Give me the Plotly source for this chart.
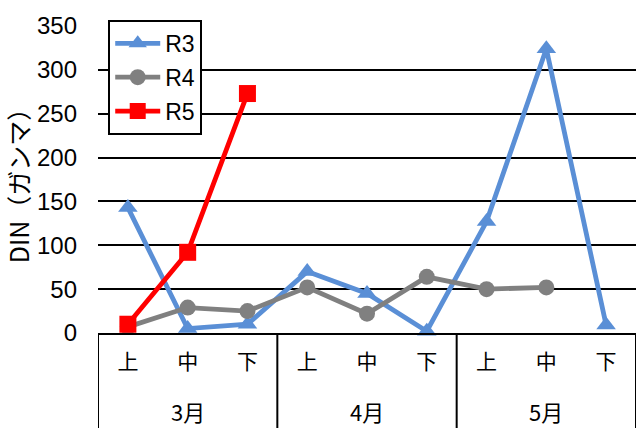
import plotly.graph_objs as go

#-------------------------------------------
# data
months = ['3月', '4月', '5月']
periods = ['上', '中', '下']
r3 = [143, 5, 10, 70, 45, 2, 127, 324, 9]
r4 = [7, 29, 25, 52, 22, 64, 50, 52, None]
r5 = [10, 92, 273, None, None, None, None, None, None]

#-------------------------------------------
# x positions / labels
tick_text = [p for m in months for p in periods]
xs = list(range(len(tick_text)))
n = len(periods)

num_font = 'Liberation Sans, Arial, sans-serif'
jp_font = 'Noto Sans CJK JP, sans-serif'

series = [
    ('R3', r3, '#5A8FD6', 'triangle-up', 17),
    ('R4', r4, '#808080', 'circle', 16),
    ('R5', r5, '#FF0000', 'square', 17),
]

data = []
for name, vals, col, sym, sz in series:
    data.append(go.Scatter(x=xs, y=vals, name=name, mode='lines+markers',
                           line=dict(color=col, width=4.8),
                           marker=dict(symbol=sym, size=sz, color=col),
                           cliponaxis=False, legendgroup=name))

#-------------------------------------------
# group dividers + month labels
shapes = []
annotations = []
for i, m in enumerate(months):
    shapes.append(dict(type='line', xref='x', yref='paper',
                       x0=i * n - 0.5, x1=i * n - 0.5, y0=0, y1=-0.32,
                       line=dict(color='black', width=2)))
    annotations.append(dict(text=m, xref='x', yref='paper',
                            x=i * n + (n - 1) / 2, y=-0.254,
                            showarrow=False, yanchor='middle',
                            font=dict(family=jp_font, size=22, color='black')))
shapes.append(dict(type='line', xref='x', yref='paper',
                   x0=len(xs) - 0.5, x1=len(xs) - 0.5, y0=0, y1=-0.32,
                   line=dict(color='black', width=2)))

layout = go.Layout(
    width=636, height=428,
    margin=dict(l=98, r=0, t=26, b=95),
    paper_bgcolor='white', plot_bgcolor='white',
    showlegend=True,
    legend=dict(x=0.019, y=1.02, xanchor='left', yanchor='top',
                bordercolor='black', borderwidth=2, bgcolor='white',
                font=dict(family=num_font, size=23, color='black'),
                itemwidth=45,
                traceorder='grouped', tracegroupgap=1),
    xaxis=dict(range=[-0.5, len(xs) - 0.5], tickvals=xs, ticktext=tick_text,
               showgrid=False, zeroline=False, showline=True,
               linecolor='black', linewidth=2, ticks='',
               ticklabelstandoff=9,
               tickfont=dict(family=jp_font, size=21, color='black')),
    yaxis=dict(range=[0, 350], dtick=50, showgrid=True, gridcolor='black',
               gridwidth=2, zeroline=False, showline=False, ticks='',
               ticklabelstandoff=20,
               tickfont=dict(family=num_font, size=24, color='black')),
    shapes=shapes, annotations=annotations,
)
layout.yaxis.title = dict(text='DIN（ガンマ）', standoff=2,
                          font=dict(family=jp_font, size=25, color='black'))

fig = go.Figure(data=data, layout=layout)
# page has an 8px body margin by default -> remove it
fig.write_html('out.html', config={'displayModeBar': False},
               post_script="document.body.style.margin='0';")
